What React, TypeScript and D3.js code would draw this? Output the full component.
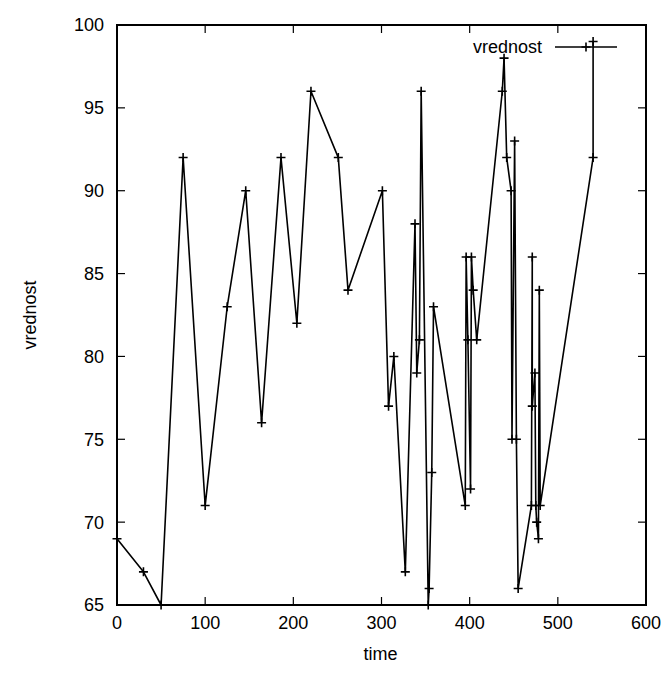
import React from 'react';
import * as d3 from 'd3';

const times = [0, 30, 50, 75, 100, 125, 146, 164, 186, 204, 220, 251, 262, 301, 308, 314, 327, 338, 340, 343, 345, 353, 354, 357, 359, 395, 396, 398, 401, 402, 404, 408, 437, 439, 442, 447, 448, 451, 453, 455, 470, 471, 471, 474, 475, 476, 478, 479, 480, 540, 540];
const values = [69, 67, 65, 92, 71, 83, 90, 76, 92, 82, 96, 92, 84, 90, 77, 80, 67, 88, 79, 81, 96, 65, 66, 73, 83, 71, 86, 81, 72, 86, 84, 81, 96, 98, 92, 90, 75, 93, 75, 66, 71, 86, 77, 79, 71, 70, 69, 84, 71, 92, 99];
const xTicks = [0, 100, 200, 300, 400, 500, 600];
const yTicks = [65, 70, 75, 80, 85, 90, 95, 100];
const seriesName = 'vrednost';

const W = 671;
const H = 683;
const margin = { top: 25, right: 25, bottom: 78, left: 117 };
const font = '"Liberation Sans", Arial, sans-serif';

export default function App() {
  const x = d3.scaleLinear().domain([0, 600]).range([margin.left, W - margin.right]);
  const y = d3.scaleLinear().domain([65, 100]).range([H - margin.bottom, margin.top]);
  const pts = times.map((t, i) => [t, values[i]] as [number, number]);
  const line = d3.line<[number, number]>().x(d => x(d[0])).y(d => y(d[1]));
  const x0 = x(0), x1 = x(600), y0 = y(65), y1 = y(100);
  const tl = 8;
  // gnuplot-style "+" point
  const cross = (cx: number, cy: number, k: string) => (
    <path key={k} d={`M${cx - 4.5},${cy}H${cx + 4.5}M${cx},${cy - 4.5}V${cy + 4.5}`} stroke="#000" strokeWidth={1.6} />
  );
  const legY = 47;

  return (
    <div style={{ position: 'absolute', left: 0, top: 0 }}>
      <svg width={W} height={H} style={{ display: 'block', background: '#fff' }}>
        <rect x={0} y={0} width={W} height={H} fill="#fff" />
        {/* ticks, mirrored on all sides */}
        {yTicks.map(v => (
          <g key={'y' + v}>
            <line x1={x0} x2={x0 + tl} y1={y(v)} y2={y(v)} stroke="#000" strokeWidth={1.2} />
            <line x1={x1} x2={x1 - tl} y1={y(v)} y2={y(v)} stroke="#000" strokeWidth={1.2} />
            <text x={x0 - 13} y={y(v)} dy="0.36em" textAnchor="end" fontFamily={font} fontSize={18}>{v}</text>
          </g>
        ))}
        {xTicks.map(v => (
          <g key={'x' + v}>
            <line x1={x(v)} x2={x(v)} y1={y0} y2={y0 - tl} stroke="#000" strokeWidth={1.2} />
            <line x1={x(v)} x2={x(v)} y1={y1} y2={y1 + tl} stroke="#000" strokeWidth={1.2} />
            <text x={x(v)} y={y0 + 24} textAnchor="middle" fontFamily={font} fontSize={18}>{v}</text>
          </g>
        ))}
        <rect x={x0} y={y1} width={x1 - x0} height={y0 - y1} fill="none" stroke="#000" strokeWidth={2} />
        <text x={(x0 + x1) / 2 - 1} y={y0 + 55} textAnchor="middle" fontFamily={font} fontSize={18}>time</text>
        <text transform={`translate(36,${(y0 + y1) / 2}) rotate(-90)`} textAnchor="middle" fontFamily={font} fontSize={18}>vrednost</text>
        {/* legend */}
        <text x={542} y={legY} dy="0.36em" textAnchor="end" fontFamily={font} fontSize={18}>{seriesName}</text>
        <line x1={555} x2={617} y1={legY} y2={legY} stroke="#000" strokeWidth={1.6} />
        {cross(586, legY, 'leg')}
        {/* series */}
        <path d={line(pts) || ''} fill="none" stroke="#000" strokeWidth={1.6} strokeLinejoin="round" />
        {pts.map((p, i) => cross(x(p[0]), y(p[1]), 'p' + i))}
      </svg>
    </div>
  );
}
